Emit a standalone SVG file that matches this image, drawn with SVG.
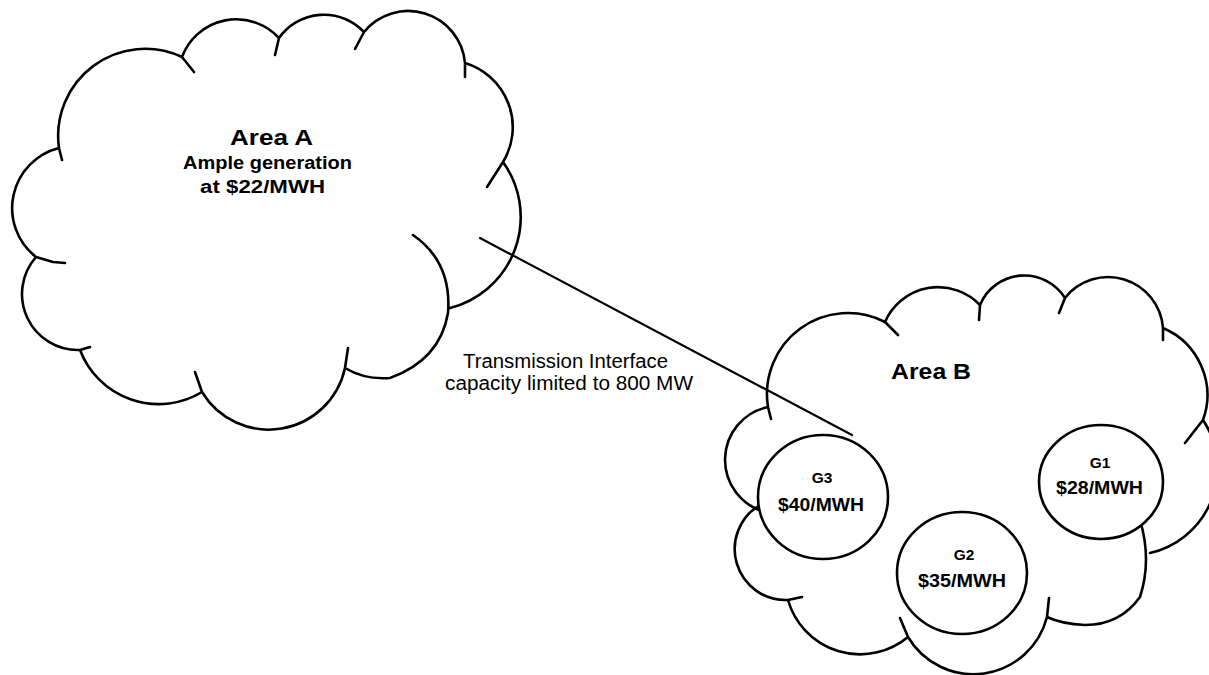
<svg xmlns="http://www.w3.org/2000/svg" width="1209" height="675" viewBox="0 0 1209 675">
<style>
.cloud{fill:none;stroke:#000;stroke-width:2.6;stroke-linecap:round;stroke-linejoin:round}
.gen{fill:#fff;stroke:#000;stroke-width:2.6}
.conn{fill:none;stroke:#000;stroke-width:2.2;stroke-linecap:round}
text{font-family:"Liberation Sans",Arial,Helvetica,sans-serif;fill:#000;text-anchor:middle}
.title{font-size:22px;font-weight:bold}
.sub{font-size:18px;font-weight:bold}
.gid{font-size:15.5px;font-weight:bold}
.price{font-size:18.5px;font-weight:bold}
.lbl{font-size:20px}
</style>
<rect width="1209" height="675" fill="#fff"/>
<g id="areaA">
<path class="cloud" d="M182,57 A58,58 0 0 1 279,38 L275,55
M279,38 A55,55 0 0 1 364,32 L355,49
M364,32 A57,57 0 0 1 465,63 L465,77
M465,63 A67,67 0 0 1 503,162 L487,187
M503,162 A94,94 0 0 1 450,308
M413,235 Q452,262 448,313 Q440,360 390,378 Q365,380 345,368 L348,348
M345,368 A78,78 0 0 1 202,392 L195,372
M202,392 A84,84 0 0 1 80,350 L90,347
M80,350 A56,56 0 0 1 36,257 L53,262 L65,263
M36,257 A62,62 0 0 1 59,148 L62,160
M59,148 A87,87 0 0 1 182,57 L194,72"/>
<text class="title" x="271.5" y="145" textLength="83" lengthAdjust="spacingAndGlyphs">Area A</text>
<text class="sub" x="267.5" y="169" textLength="169" lengthAdjust="spacingAndGlyphs">Ample generation</text>
<text class="sub" x="262.5" y="193" textLength="125" lengthAdjust="spacingAndGlyphs">at $22/MWH</text>
</g>
<g id="areaB">
<path class="cloud" d="M768,407 A81,81 0 0 1 885,322 L898,335
M885,322 A58,58 0 0 1 980,305 L979,320
M980,305 A48,48 0 0 1 1065,298 L1059,313
M1065,298 A55,55 0 0 1 1163,328 L1163,340
M1163,328 A73,73 0 0 1 1203,420 L1185,443
M1203,420 A87,87 0 0 1 1150,553
M1140,520 Q1152,560 1140,597 Q1120,625 1085,625 Q1062,624 1047,617
M1049,598 L1047,617 A76,76 0 0 1 908,637 L900,618
M908,637 A75,75 0 0 1 788,600 L802,597
M788,600 A51,51 0 0 1 760,505
M765,512 A54,54 0 0 1 768,407 L771,419"/>
<text class="title" x="931" y="379" textLength="80" lengthAdjust="spacingAndGlyphs">Area B</text>
</g>
<g id="G3">
<ellipse class="gen" cx="823" cy="497" rx="65" ry="62"/>
<text class="gid" x="822" y="483">G3</text>
<text class="price" x="821" y="510.5" textLength="86" lengthAdjust="spacingAndGlyphs">$40/MWH</text>
</g>
<g id="G1">
<ellipse class="gen" cx="1101" cy="482" rx="62" ry="57"/>
<text class="gid" x="1100" y="468">G1</text>
<text class="price" x="1099.5" y="494" textLength="87" lengthAdjust="spacingAndGlyphs">$28/MWH</text>
</g>
<g id="G2">
<ellipse class="gen" cx="962" cy="573" rx="65" ry="61"/>
<text class="gid" x="964" y="560">G2</text>
<text class="price" x="962" y="587" textLength="88" lengthAdjust="spacingAndGlyphs">$35/MWH</text>
</g>
<g id="connectors">
<line class="conn" x1="480" y1="238" x2="852" y2="435"/>
<text class="lbl" x="565.5" y="368" textLength="205" lengthAdjust="spacingAndGlyphs">Transmission Interface</text>
<text class="lbl" x="569" y="390" textLength="248" lengthAdjust="spacingAndGlyphs">capacity limited to 800 MW</text>
</g>
</svg>
